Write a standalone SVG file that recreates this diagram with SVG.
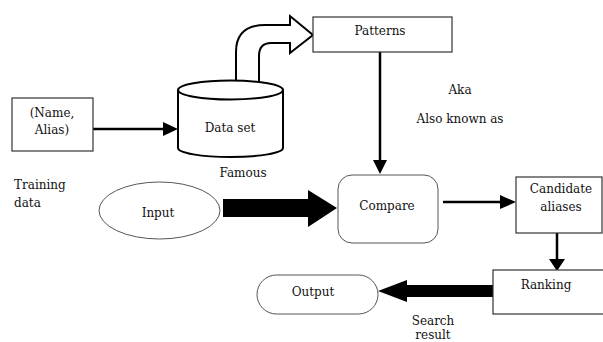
<svg xmlns="http://www.w3.org/2000/svg" width="603" height="342" viewBox="0 0 603 342">
<style>
text{font-family:"DejaVu Serif","Liberation Serif",serif;font-size:12px;fill:#111;text-anchor:middle}
.lbl{text-anchor:start}
.box{fill:#fff;stroke:#333;stroke-width:1.2}
.thin{fill:#fff;stroke:#555;stroke-width:1}
.ln{stroke:#000;stroke-width:2.5;fill:none}
.hd{fill:#000}
</style>
<rect width="603" height="342" fill="#fff"/>
<g id="connectors">
<line class="ln" x1="93" y1="129" x2="164" y2="129"/>
<polygon class="hd" points="163,122 178,129 163,136"/>
<path d="M236,82 L236,52 Q236,25 265,25 L290,25 L290,16 L313,35 L290,53 L290,43 L271,43 Q259,43 259,56 L259,82" fill="#fff" stroke="#000" stroke-width="2"/>
<line class="ln" x1="380" y1="52" x2="380" y2="162"/>
<polygon class="hd" points="373,160 387,160 380,174"/>
<polygon class="hd" points="223,199 308,199 308,190 337,208 308,227 308,217 223,217"/>
<line class="ln" x1="443" y1="202" x2="502" y2="202"/>
<polygon class="hd" points="500,195 516,202 500,209"/>
<line class="ln" x1="557" y1="233" x2="557" y2="261"/>
<polygon class="hd" points="549,259 565,259 557,271"/>
<polygon class="hd" points="494,285 407,285 407,280 378,291 407,302 407,297 494,297"/>
</g>
<g id="name-alias">
<rect class="box" x="12" y="98" width="81" height="53"/>
<text x="52" y="117">(Name,</text>
<text x="52" y="134">Alias)</text>
</g>
<g id="dataset">
<path d="M178,90 L178,148 A52.5,9 0 0 0 283,148 L283,90" fill="#fff" stroke="#000" stroke-width="2"/>
<ellipse cx="230.5" cy="90" rx="52.5" ry="9.5" fill="#fff" stroke="#000" stroke-width="2"/>
<text x="230" y="132">Data set</text>
</g>
<g id="patterns">
<rect class="box" x="313" y="17" width="139" height="35"/>
<text x="380" y="35">Patterns</text>
</g>
<g id="compare">
<rect class="thin" x="338" y="175" width="100" height="68" rx="14"/>
<text x="387" y="210">Compare</text>
</g>
<g id="input">
<ellipse class="thin" cx="159.5" cy="210.5" rx="60.5" ry="28.5"/>
<text x="158" y="217">Input</text>
</g>
<g id="candidate">
<rect class="box" x="516" y="177" width="86" height="56"/>
<text x="561" y="193">Candidate</text>
<text x="561" y="211">aliases</text>
</g>
<g id="ranking">
<rect class="box" x="493" y="270" width="115" height="44"/>
<text x="546" y="289">Ranking</text>
</g>
<g id="output">
<rect class="thin" x="257" y="275" width="121" height="39" rx="19.5"/>
<text x="313" y="296">Output</text>
</g>
<g id="labels">
<text x="243" y="177">Famous</text>
<text x="460" y="94">Aka</text>
<text x="460" y="123">Also known as</text>
<text class="lbl" x="14" y="189">Training</text>
<text class="lbl" x="14" y="207">data</text>
<text x="433" y="325">Search</text>
<text x="433" y="339">result</text>
</g>
</svg>
